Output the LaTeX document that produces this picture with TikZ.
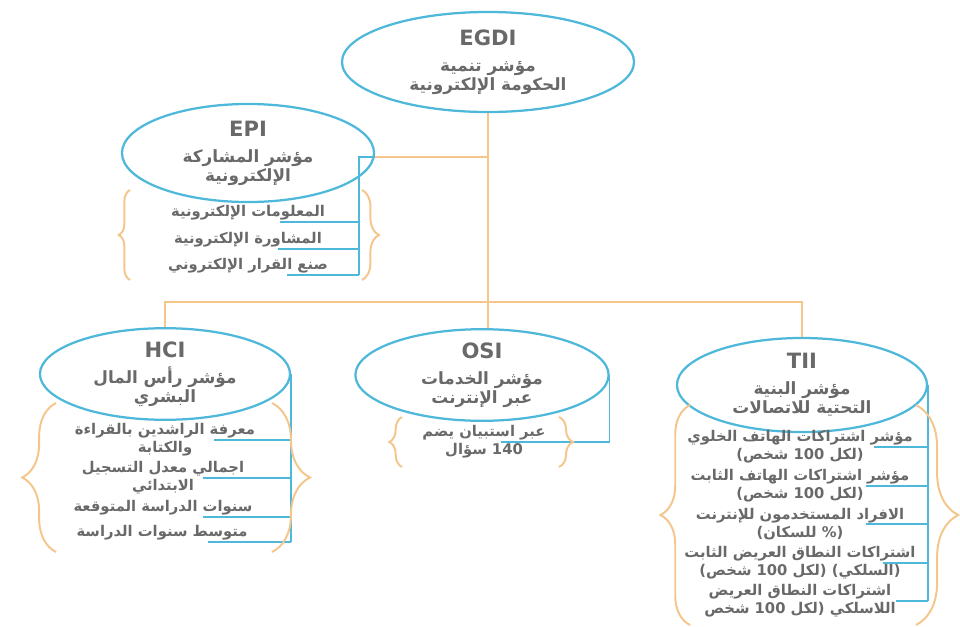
\documentclass[tikz,border=0pt]{standalone}
\usepackage{fontspec}
\setmainfont{DejaVu Sans}
\newfontfamily\arabicfont[Script=Arabic]{DejaVu Sans}
\TeXXeTstate=1
\usetikzlibrary{shapes.geometric,decorations.pathreplacing}
\definecolor{ringblue}{RGB}{78,184,218}
\definecolor{stemorange}{RGB}{244,198,140}
\definecolor{inkgray}{RGB}{105,105,105}
\newcommand{\rl}[1]{{\arabicfont\beginR #1\endR}}
\newcommand{\lr}[1]{\beginL #1\endL{}}
\newcommand{\hd}[1]{{\fontsize{15}{17}\selectfont #1}}
\tikzstyle{hub} = [ellipse, draw=ringblue, line width=1.6pt, inner sep=0pt, align=center, text=inkgray, font=\bfseries\fontsize{12}{13.5}\selectfont]
\tikzstyle{item} = [align=center, text=inkgray, inner sep=1pt, font=\bfseries\fontsize{10.5}{13}\selectfont]
\tikzstyle{trunk} = [draw=stemorange, line width=1.6pt]
\tikzstyle{feed} = [draw=ringblue, line width=1pt]
\tikzstyle{curly} = [draw=stemorange, line width=1.4pt, decorate, decoration={brace, amplitude=#1}]

\begin{document}
\begin{tikzpicture}[x=0.025cm, y=-0.025cm]
  \useasboundingbox (0,0) rectangle (960,626);
  % index ellipses
  \node (egdi) at (488,62) [hub, minimum width=7.3cm, minimum height=2.5cm] {\hd{EGDI}\\[5pt] \rl{مؤشر تنمية}\\ \rl{الحكومة الإلكترونية}};
  \node (epi) at (248,153) [hub, minimum width=6.3cm, minimum height=2.45cm] {\hd{EPI}\\[5pt] \rl{مؤشر المشاركة}\\ \rl{الإلكترونية}};
  \node (hci) at (165,374) [hub, minimum width=6.25cm, minimum height=2.25cm] {\hd{HCI}\\[5pt] \rl{مؤشر رأس المال}\\ \rl{البشري}};
  \node (osi) at (482,375) [hub, minimum width=6.33cm, minimum height=2.25cm] {\hd{OSI}\\[5pt] \rl{مؤشر الخدمات}\\ \rl{عبر الإنترنت}};
  \node (tii) at (802,385) [hub, minimum width=6.25cm, minimum height=2.35cm] {\hd{TII}\\[5pt] \rl{مؤشر البنية}\\ \rl{التحتية للاتصالات}};

  % sub indicators
  \node (epi1) at (248,213) [item] {\rl{المعلومات الإلكترونية}};
  \node (epi2) at (248,240) [item] {\rl{المشاورة الإلكترونية}};
  \node (epi3) at (248,266) [item] {\rl{صنع القرار الإلكتروني}};

  \node (hci1) at (165,440) [item] {\rl{معرفة الراشدين بالقراءة}\\ \rl{والكتابة}};
  \node (hci2) at (163,478) [item] {\rl{اجمالي معدل التسجيل}\\ \rl{الابتدائي}};
  \node (hci3) at (163,508) [item] {\rl{سنوات الدراسة المتوقعة}};
  \node (hci4) at (162,533) [item] {\rl{متوسط سنوات الدراسة}};

  \node (osi1) at (484,442) [item] {\rl{عبر استبيان يضم}\\ \rl{\lr{140} سؤال}};

  \node (tii1) at (800,447) [item] {\rl{مؤشر اشتراكات الهاتف الخلوي}\\ \rl{(لكل \lr{100} شخص)}};
  \node (tii2) at (800,486) [item] {\rl{مؤشر اشتراكات الهاتف الثابت}\\ \rl{(لكل \lr{100} شخص)}};
  \node (tii3) at (800,524) [item] {\rl{الافراد المستخدمون للإنترنت}\\ \rl{(\% للسكان)}};
  \node (tii4) at (800,563) [item] {\rl{اشتراكات النطاق العريض الثابت}\\ \rl{(السلكي) (لكل \lr{100} شخص)}};
  \node (tii5) at (800,601) [item] {\rl{اشتراكات النطاق العريض}\\ \rl{اللاسلكي (لكل \lr{100} شخص}};

  % orange tree
  \coordinate (fork) at (488,302);
  \coordinate (epijoin) at (488,157);
  \coordinate (epirail) at (359,157);
  \draw[trunk] (egdi.south) -- (fork);
  \draw[trunk] (hci.north) |- (fork) -| (tii.north);
  \draw[trunk] (fork) -- (fork |- osi.north);
  \draw[trunk] (epijoin) -- (epijoin -| epi.east);

  % blue rails
  \draw[feed] (epijoin -| epi.east) -- (epirail) -- (epirail |- epi3.south);
  \draw[feed] (epirail |- epi1.south) -- ++(-79,0);
  \draw[feed] (epirail |- epi2.south) -- ++(-81,0);
  \draw[feed] (epirail |- epi3.south) -- ++(-72,0);

  \draw[feed] (hci.east) -- (hci.east |- hci4.south);
  \draw[feed] (hci.east |- hci1) -- ++(-77,0);
  \draw[feed] (hci.east |- hci2) -- ++(-88,0);
  \draw[feed] (hci.east |- hci3.south) -- ++(-88,0);
  \draw[feed] (hci.east |- hci4.south) -- ++(-83,0);

  \draw[feed] (osi.east) -- (osi.east |- osi1) -- ++(-109,0);

  \draw[feed] (tii.east) -- (tii.east |- tii5);
  \draw[feed] (tii.east |- tii1) -- ++(-54,0);
  \draw[feed] (tii.east |- tii2) -- ++(-62,0);
  \draw[feed] (tii.east |- tii3) -- ++(-62,0);
  \draw[feed] (tii.east |- tii4) -- ++(-45,0);
  \draw[feed] (tii.east |- tii5) -- ++(-32,0);

  % braces
  \draw[curly=8pt] (130,280) -- (130,190);
  \draw[curly=12pt] (362,190) -- (362,280);
  \draw[curly=24pt] (56,552) -- (56,403);
  \draw[curly=27pt] (272,403) -- (272,552);
  \draw[curly=9pt] (402,467) -- (402,417);
  \draw[curly=10pt] (559,417) -- (559,467);
  \draw[curly=21pt] (690,625) -- (690,405);
  \draw[curly=30pt] (916,405) -- (916,625);
\end{tikzpicture}
\end{document}
